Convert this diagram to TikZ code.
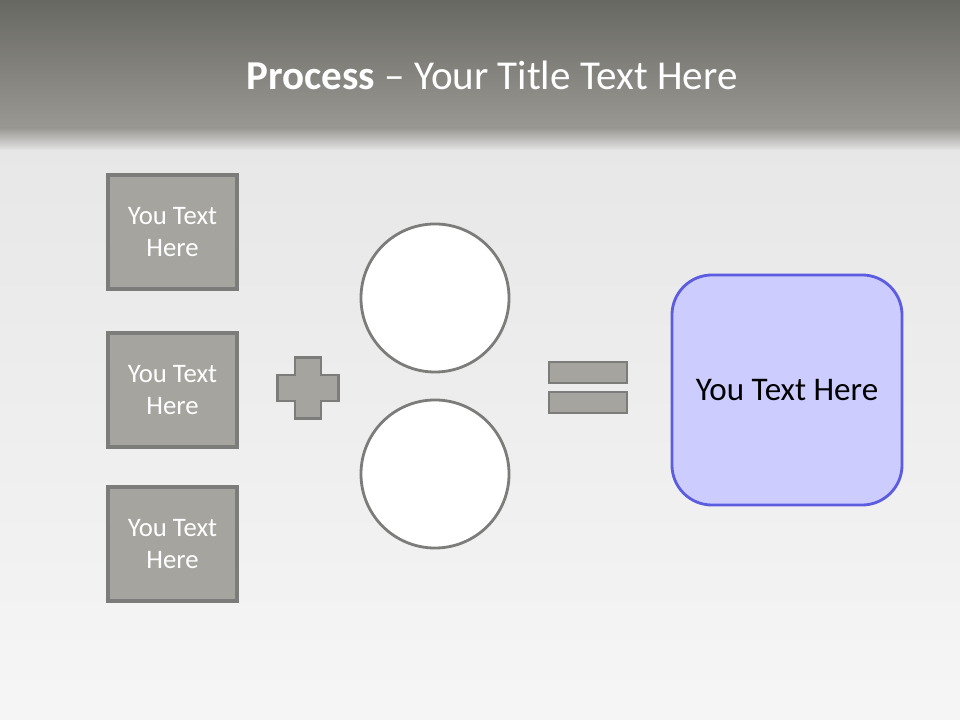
\documentclass[tikz,border=0pt]{standalone}
\usepackage{fontspec}
\setmainfont{Carlito}
\definecolor{BarTop}{RGB}{104, 104, 99}
\definecolor{BarBottom}{RGB}{154, 152, 147}
\definecolor{Silk}{RGB}{236, 236, 236}
\definecolor{StoneFill}{RGB}{165, 164, 159}
\definecolor{StoneEdge}{RGB}{124, 124, 122}
\definecolor{Lilac}{RGB}{204, 204, 255}
\definecolor{LilacEdge}{RGB}{92, 92, 224}
\usetikzlibrary{positioning}

\begin{document}
\begin{tikzpicture}[
    x=0.025cm, y=-0.025cm,
    every node/.style={align=center},
    inbox/.style={draw=StoneEdge, fill=StoneFill, line width=2.2pt, text=white,
                  minimum width=3.225cm, minimum height=2.85cm,
                  font=\fontsize{19}{23}\selectfont},
    blank/.style={circle, draw=StoneEdge, fill=white, line width=2pt,
                  minimum size=3.7cm},
    bar/.style={draw=StoneEdge, fill=StoneFill, line width=1.8pt,
                minimum width=1.95cm, minimum height=0.525cm},
    result/.style={draw=LilacEdge, fill=Lilac, line width=2pt, rounded corners=1cm,
                   minimum width=5.75cm, minimum height=5.75cm,
                   font=\fontsize{23.5}{28}\selectfont}
]
% background and title bar
\fill[top color=Silk!92!gray, bottom color=Silk!50!white] (0,0) rectangle (960,720);
\shade[top color=BarTop, bottom color=BarBottom] (0,0) rectangle (960,128);
\shade[top color=BarBottom, bottom color=Silk!92!gray] (0,128) rectangle (960,150);
\node[text=white, font=\fontsize{29.2}{34}\selectfont] (title) at (492,75)
    {\textbf{Process} -- Your Title Text Here};

% inputs
\node[inbox] (in1) at (172.5,232) {You Text\\Here};
\node[inbox] (in2) at (172.5,390) {You Text\\Here};
\node[inbox] (in3) at (172.5,544) {You Text\\Here};

% plus sign
\draw[StoneEdge, fill=StoneFill, line width=1.8pt, shift={(308,388)}]
    (-13,-30.5) -- (13,-30.5) -- (13,-13) -- (30.5,-13) -- (30.5,13) -- (13,13)
    -- (13,30.5) -- (-13,30.5) -- (-13,13) -- (-30.5,13) -- (-30.5,-13) -- (-13,-13) -- cycle;

% circles
\node[blank] (c1) at (435,298) {};
\node[blank] (c2) at (435,474) {};

% equals sign
\node[bar] (eq1) at (588,372.5) {};
\node[bar] (eq2) at (588,402.5) {};

% outcome
\node[result] (out) at (787,390) {You Text Here};
\end{tikzpicture}
\end{document}
